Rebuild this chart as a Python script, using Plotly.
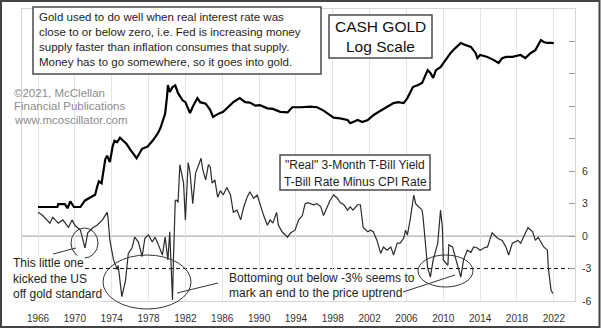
import plotly.graph_objects as go

# ---- "Real" 3-month T-bill yield (T-bill rate minus CPI rate), percent ----
rate_year = [
    1966.0, 1966.5, 1967.3, 1967.6, 1968.2, 1968.7, 1969.3, 1969.7, 1970.0, 1970.6,
    1971.1, 1971.4, 1971.9, 1972.4, 1973.0, 1973.5, 1973.6, 1973.8, 1974.2, 1974.6,
    1974.7, 1975.1, 1975.5, 1975.8, 1976.2, 1976.5, 1976.9, 1977.3, 1977.6, 1978.0,
    1978.4, 1978.7, 1979.0, 1979.5, 1979.8, 1980.1, 1980.3, 1980.6, 1980.7, 1980.9,
    1981.1, 1981.2, 1981.4, 1981.7, 1981.8, 1982.0, 1982.2, 1982.3, 1982.5, 1982.8,
    1983.1, 1983.4, 1983.7, 1983.9, 1984.2, 1984.5, 1984.7, 1984.9, 1985.2, 1985.5,
    1985.8, 1986.1, 1986.5, 1986.9, 1987.2, 1987.6, 1988.0, 1988.3, 1988.7, 1989.0,
    1989.4, 1989.8, 1990.1, 1990.5, 1990.9, 1991.2, 1991.5, 1991.9, 1992.1, 1992.5,
    1993.1, 1993.4, 1993.9, 1994.3, 1994.7, 1995.0, 1995.3, 1995.9, 1996.3, 1996.7,
    1997.0, 1997.4, 1997.7, 1998.1, 1998.5, 1998.8, 1999.2, 1999.6, 1999.9, 2000.2,
    2000.7, 2001.0, 2001.3, 2001.8, 2002.1, 2002.4, 2002.8, 2003.2, 2003.5, 2003.9,
    2004.3, 2004.6, 2005.0, 2005.3, 2005.7, 2005.9, 2006.1, 2006.4, 2006.8, 2007.0,
    2007.3, 2007.7, 2007.8, 2008.3, 2008.6, 2008.9, 2009.4, 2009.7, 2009.9, 2010.0,
    2010.5, 2010.6, 2011.0, 2011.3, 2011.7, 2011.9, 2012.2, 2012.6, 2013.0, 2013.3,
    2013.7, 2014.0, 2014.4, 2014.8, 2015.3, 2015.9, 2016.4, 2016.8, 2017.1, 2017.5,
    2018.1, 2018.4, 2018.7, 2019.2, 2019.7, 2020.0, 2020.3, 2020.6, 2020.9, 2021.3,
    2021.4, 2021.7, 2021.9,
]
real_rate = [
    2.2, 1.9, 1.2, 1.75, 1.2, 1.5, 0.8, 1.5, 1.0, 0.55,
    -1.1, 0.3, 0.75, 1.0, 1.5, 2.2, 1.7, -0.4, -2.2, -3.1,
    -2.7, -5.6, -4.1, -1.6, -1.1, -0.1, -0.55, -1.9, -0.2, 0.1,
    -0.55, -0.1, -0.65, -1.75, -0.1, -2.2, 0.4, -5.9, -2.2, 3.3,
    3.3, 3.1, 6.6, 5.2, 4.9, 1.5, 5.2, 6.8, 5.9, 3.0,
    5.8, 6.6, 7.2, 6.1, 5.2, 6.6, 6.4, 4.9, 5.2, 3.6,
    4.2, 3.8, 4.5, 3.8, 2.2, 2.4, 1.5, 2.6, 3.6, 4.1,
    3.5, 3.8, 2.9, 1.9, 1.0, 1.5, 1.2, 2.2, 1.0, 0.4,
    -0.1, 0.3, 0.55, 1.5, 1.9, 3.0, 3.1, 2.9, 3.0, 2.7,
    1.9, 2.7, 3.3, 3.8, 3.5, 3.1, 2.9, 2.4, 2.7, 2.4,
    2.9, 2.9, 0.8, 0.4, 0.55, 0.4, -0.4, -1.6, -1.0, -1.3,
    -1.0, -1.75, -0.65, -0.65, -0.2, 0.55, 0.1, 1.5, 3.8, 3.0,
    2.7, 2.4, 1.75, -2.9, -3.8, -2.2, -0.65, 2.4, 0.8, -2.2,
    -2.7, -0.8, -1.0, -1.9, -3.1, -3.8, -2.2, -1.3, -1.5, -1.0,
    -1.1, -1.3, -1.1, -1.0, 0.3, -0.2, -0.4, -1.0, -1.75, -0.65,
    -0.4, -0.65, -0.1, 0.8, 0.4, -0.4, -0.1, -0.55, -1.0, -1.3,
    -2.9, -5.0, -5.3,
]

# ---- Cash gold price, US$ per ounce (plotted on a log scale) ----
gold_year = [
    1966.0, 1968.1, 1968.2, 1968.9, 1969.2, 1969.5, 1969.9, 1970.6, 1971.1, 1971.7,
    1972.2, 1972.4, 1972.6, 1972.9, 1973.3, 1973.5, 1973.8, 1974.1, 1974.3, 1974.6,
    1974.9, 1975.3, 1975.6, 1976.0, 1976.7, 1977.3, 1977.9, 1978.5, 1979.0, 1979.3,
    1979.8, 1980.0, 1980.1, 1980.3, 1980.6, 1980.9, 1981.2, 1981.7, 1982.0, 1982.5,
    1982.8, 1983.3, 1983.6, 1984.2, 1984.7, 1985.0, 1985.6, 1986.1, 1986.7, 1987.2,
    1987.9, 1988.5, 1989.0, 1989.6, 1990.1, 1990.9, 1991.5, 1992.3, 1993.1, 1993.6,
    1994.5, 1995.6, 1996.3, 1997.0, 1998.1, 1998.8, 1999.6, 1999.9, 2000.7, 2001.2,
    2001.8, 2002.4, 2003.0, 2003.9, 2004.6, 2005.1, 2005.7, 2006.1, 2006.7, 2007.2,
    2007.7, 2008.3, 2008.6, 2008.9, 2009.2, 2009.7, 2010.2, 2010.8, 2011.3, 2011.9,
    2012.4, 2013.0, 2013.5, 2013.7, 2014.0, 2014.8, 2015.5, 2016.0, 2016.4, 2016.8,
    2017.5, 2018.4, 2018.9, 2019.5, 2020.0, 2020.6, 2020.9, 2021.3, 2021.7, 2022.0,
]
gold_price = [
    35, 35, 37.6, 37.6, 34, 40, 35, 35, 41, 44,
    47, 56, 65, 62, 110, 120, 103, 150, 172, 167,
    185, 170, 160, 140, 113, 142, 150, 175, 205, 235,
    330, 490, 655, 555, 625, 650, 540, 455, 435, 335,
    390, 480, 435, 420, 360, 305, 330, 345, 390, 435,
    480, 435, 430, 400, 405, 375, 370, 345, 340, 385,
    385, 390, 385, 355, 300, 295, 283, 262, 283, 270,
    283, 318, 345, 388, 425, 435, 425, 480, 625, 655,
    690, 940, 880, 780, 940, 1010, 1195, 1420, 1595, 1805,
    1720, 1640, 1420, 1255, 1350, 1290, 1195, 1115, 1255, 1290,
    1290, 1350, 1255, 1420, 1520, 1935, 1850, 1805, 1805, 1800,
]

year_ticks = list(range(1966, 2023, 4))
rate_ticks = list(range(-6, 22, 3))
rate_tick_text = [str(v) if v <= 6 else "" for v in rate_ticks]

FONT = "Arial, Liberation Sans, Helvetica, sans-serif"
W, H = 601, 328
ML, MR, MT, MB = 22, 26, 9, 27


def px(x):
    """Pixel column -> paper x."""
    return (x - ML) / (W - ML - MR)


def py(y):
    """Pixel row -> paper y."""
    return (H - MB - y) / (H - MT - MB)


fig = go.Figure()
fig.add_trace(go.Scatter(
    x=rate_year, y=real_rate, mode="lines", yaxis="y",
    line=dict(color="#2b2b2b", width=1.2), showlegend=False,
))
fig.add_trace(go.Scatter(
    x=gold_year, y=gold_price, mode="lines", yaxis="y2",
    line=dict(color="#000000", width=2.2), showlegend=False,
))

shapes = [
    # zero and -3 reference lines
    dict(type="line", xref="paper", yref="y", x0=0, x1=1, y0=0, y1=0,
         line=dict(color="#9a9a9a", width=1), layer="below"),
    dict(type="line", xref="paper", yref="y", x0=0, x1=1, y0=-3, y1=-3,
         line=dict(color="#111111", width=1, dash="4px,3px"), layer="below"),
    # text boxes
    dict(type="rect", xref="paper", yref="paper", x0=px(33), x1=px(321), y0=py(74), y1=py(7),
         line=dict(color="#4a4a4a", width=1.5), fillcolor="white"),
    dict(type="rect", xref="paper", yref="paper", x0=px(329), x1=px(432), y0=py(58), y1=py(15),
         line=dict(color="#4a4a4a", width=1.5), fillcolor="white"),
    dict(type="rect", xref="paper", yref="paper", x0=px(280), x1=px(430), y0=py(190), y1=py(155),
         line=dict(color="#4a4a4a", width=1.5), fillcolor="white"),
    # ellipses
    dict(type="circle", xref="paper", yref="paper", x0=px(71), x1=px(98), y0=py(258), y1=py(228),
         line=dict(color="#333333", width=1)),
    dict(type="circle", xref="paper", yref="paper", x0=px(103), x1=px(191), y0=py(309), y1=py(255),
         line=dict(color="#333333", width=1)),
    dict(type="circle", xref="paper", yref="paper", x0=px(418), x1=px(473), y0=py(287), y1=py(255),
         line=dict(color="#333333", width=1)),
    # pointer lines
    dict(type="line", xref="paper", yref="paper", x0=px(53), x1=px(76), y0=py(254), y1=py(248),
         line=dict(color="#333333", width=1)),
    dict(type="line", xref="paper", yref="paper", x0=px(218), x1=px(177), y0=py(283), y1=py(293),
         line=dict(color="#333333", width=1)),
    dict(type="line", xref="paper", yref="paper", x0=px(403), x1=px(455), y0=py(292), y1=py(275),
         line=dict(color="#333333", width=1)),
    # outer frame
    dict(type="rect", xref="paper", yref="paper", x0=px(1), x1=px(599.5), y0=py(327), y1=py(1),
         line=dict(color="#444444", width=2)),
]


def label(text, x, y, size, color="#1e1e1e", anchor="left", bg=None):
    d = dict(text=text, xref="paper", yref="paper", x=px(x), y=py(y),
             xanchor=anchor, yanchor="middle", showarrow=False,
             font=dict(family=FONT, size=size, color=color))
    if bg:
        d.update(bgcolor=bg, borderpad=0)
    return d


annotations = []
for i, t in enumerate([
    "Gold used to do well when real interest rate was",
    "close to or below zero, i.e. Fed is increasing money",
    "supply faster than inflation consumes that supply.",
    "Money has to go somewhere, so it goes into gold.",
]):
    annotations.append(label(t, 37, 17 + 15 * i, 11.5))

annotations.append(label("CASH GOLD", 380.5, 26, 15.5, "#111111", "center"))
annotations.append(label("Log Scale", 380.5, 47, 15.5, "#111111", "center"))

for i, t in enumerate(["\u00a92021, McClellan", "Financial Publications", "www.mcoscillator.com"]):
    annotations.append(label(t, 12, 93 + 13.5 * i, 11.5, "#8c8c8c"))

annotations.append(label("\"Real\" 3-Month T-Bill Yield", 355, 165, 12, "#1e1e1e", "center"))
annotations.append(label("T-Bill Rate Minus CPI Rate", 355, 182, 12, "#1e1e1e", "center"))

for i, t in enumerate(["This little one", "kicked the US", "off gold standard"]):
    annotations.append(label(t, 12, 263 + 15.5 * i, 12, bg="white"))

annotations.append(label("Bottoming out below -3% seems to", 228, 278, 12, bg="white"))
annotations.append(label("mark an end to the price uptrend", 228, 293, 12, bg="white"))

fig.update_layout(
    width=W, height=H,
    margin=dict(l=ML, r=MR, t=MT, b=MB, pad=0, autoexpand=False),
    paper_bgcolor="white", plot_bgcolor="white",
    font=dict(family=FONT, color="#333333"),
    showlegend=False,
    xaxis=dict(
        range=[1964.26, 2024.3], tickvals=year_ticks, ticks="",
        showgrid=True, gridcolor="#e4e4e4", gridwidth=1, zeroline=False,
        showline=True, mirror=True, linecolor="#d6d6d6", linewidth=1,
        tickfont=dict(size=10, color="#333333"), ticklabelstandoff=8,
        automargin=False,
    ),
    yaxis=dict(
        side="right", range=[-6, 21], tickvals=rate_ticks, ticktext=rate_tick_text,
        ticks="inside", ticklen=6, tickcolor="#9a9a9a", tickwidth=1,
        showgrid=False, zeroline=False,
        showline=True, mirror=True, linecolor="#d6d6d6", linewidth=1,
        tickfont=dict(size=10.5, color="#333333"), ticklabelstandoff=4,
        automargin=False,
    ),
    yaxis2=dict(
        type="log", overlaying="y", range=[0.563, 3.611], visible=False,
    ),
    shapes=shapes,
    annotations=annotations,
)

fig.write_html("out.html")
